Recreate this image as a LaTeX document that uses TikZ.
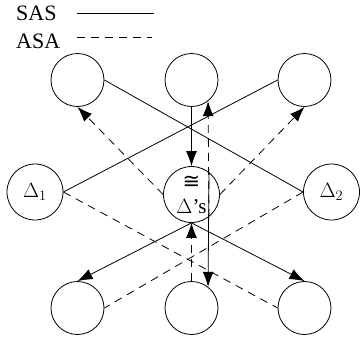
\documentclass[tikz,border=0pt]{standalone}
\usepackage{fontspec}
\setmainfont{Liberation Serif}
\newfontfamily\symfont{DejaVu Sans}
\usetikzlibrary{arrows.meta}
\begin{document}
\begin{tikzpicture}[x=1pt,y=-1pt,
  state/.style={circle,draw,line width=0.8pt,minimum size=53pt,inner sep=0pt,font=\fontsize{21}{24}\selectfont},
  big/.style={state,minimum size=56pt},
  sas/.style={line width=0.8pt},
  asa/.style={line width=0.8pt,dash pattern=on 8pt off 6pt},
  tip/.style={-{Latex[length=15pt,width=11pt]}},
  txt/.style={font=\fontsize{21}{24}\selectfont, inner sep=0pt},
  lbl/.style={font=\fontsize{22}{24}\selectfont, inner sep=0pt, anchor=west}]
\useasboundingbox (0,0) rectangle (360,341);
% legend
\node[lbl] (sasl) at (16,13) {SAS};
\node[lbl] (asal) at (16,41) {ASA};
\coordinate (sasa) at (77,13);
\coordinate (sasb) at (154,13);
\coordinate (asaa) at (77,37);
\coordinate (asab) at (152,37);
\draw[sas] (sasa) -- (sasb);
\draw[asa] (asaa) -- (asab);
% nodes
\node[state] (tl) at (77.5,80) {};
\node[state] (tm) at (191.5,80) {};
\node[state] (tr) at (304.5,80) {};
\node[big] (d1) at (35,192) {$\Delta_1$};
\node[big] (c) at (191.5,194.5) {};
\node[font=\fontsize{21}{24}\selectfont\symfont, inner sep=0pt] (cong) at (191.5,182) {≅};
\node[txt] (ds) at (191.5,207) {$\Delta$'s};
\node[big] (d2) at (331.5,192) {$\Delta_2$};
\node[state] (bl) at (77.5,308) {};
\node[state] (bm) at (191.5,308) {};
\node[state] (br) at (304.5,308) {};
% SAS connectors
\draw[sas] (tl.east) -- (d2.west);
\draw[sas] (tr.west) -- (d1.east);
\draw[sas,tip] (tm.south) -- (c.north);
\draw[sas,tip] (c.south) -- (bl.north);
\draw[sas,tip] (c.south) -- (br.north);
\draw[sas,tip] (c.52) -- (bm.52);
% ASA connectors
\draw[asa] (d1.east) -- (br.west);
\draw[asa] (d2.west) -- (bl.east);
\draw[asa,tip] (c.west) -- (tl.south);
\draw[asa,tip] (c.east) -- (tr.south);
\draw[asa,tip] (bm.north) -- (c.south);
\draw[asa,tip] (c.-52) -- (tm.-52);
\end{tikzpicture}
\end{document}
